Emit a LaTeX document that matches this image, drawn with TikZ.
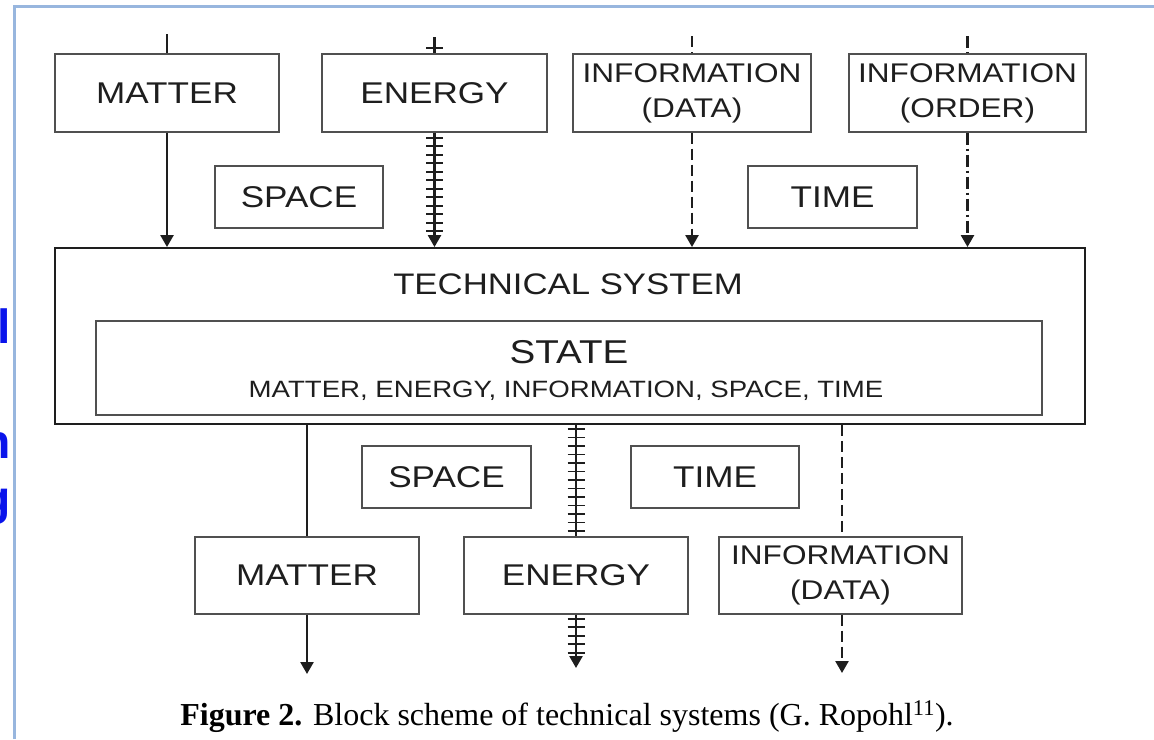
\documentclass[tikz,border=0pt]{standalone}
\usepackage{fontspec}
\usetikzlibrary{arrows.meta,decorations.markings}
\newfontfamily\boxfont[FakeStretch=1.17]{Liberation Sans}
\newfontfamily\slidefont{Liberation Sans}
\newfontfamily\captfont{Liberation Serif}
\definecolor{frameblue}{RGB}{152,182,222}
\definecolor{slideblue}{RGB}{10,20,235}
\definecolor{boxgray}{RGB}{80,80,80}
\definecolor{ink}{RGB}{30,30,30}

\tikzset{
  block/.style={draw=boxgray, line width=1.3pt, minimum height=78pt, inner sep=0pt,
    text=ink, font=\boxfont\fontsize{30}{36}\selectfont},
  twoline/.style={block, align=center, font=\boxfont\fontsize{27}{35}\selectfont},
  small/.style={block, minimum height=62pt},
  flow/.style={line width=2.5pt, draw=ink, -{Triangle[width=13pt,length=12pt]}},
  plainline/.style={line width=2.5pt, draw=ink},
  dataline/.style={dash pattern=on 11pt off 5pt},
  orderline/.style={dash pattern=on 12pt off 4pt on 2pt off 4pt},
  ticks/.style 2 args={postaction={decorate, decoration={markings,
    mark=between positions #1 and #2 step 8.5pt with {\draw[-, line width=1.7pt, ink, solid] (0,-8.5pt) -- (0,8.5pt);}}}}
}

\begin{document}
\begin{tikzpicture}[x=1pt, y=-1pt]
  \useasboundingbox (0,0) rectangle (1154,739);

  \begin{scope}
    \clip (0,0) rectangle (12.5,739);
    \node[anchor=base east, inner sep=0pt, text=slideblue, font=\slidefont\bfseries\fontsize{48}{48}\selectfont] (frag1) at (11,343) {l};
    \node[anchor=base east, inner sep=0pt, text=slideblue, font=\slidefont\bfseries\fontsize{48}{48}\selectfont] (frag2) at (11,458) {n};
    \node[anchor=base east, inner sep=0pt, text=slideblue, font=\slidefont\bfseries\fontsize{48}{48}\selectfont] (frag3) at (11,514) {g};
  \end{scope}
  \draw[frameblue, line width=3pt] (14.5,739) -- (14.5,6) -- (1154,6);

  \node[block, minimum width=224pt] (matterIn) at (167,93) {MATTER};
  \node[block, minimum width=225pt] (energyIn) at (434.5,93) {ENERGY};
  \node[twoline, minimum width=238pt] (dataIn) at (692,93) {INFORMATION\\(DATA)};
  \node[twoline, minimum width=237pt] (orderIn) at (967.5,93) {INFORMATION\\(ORDER)};
  \node[small, minimum width=168pt] (spaceIn) at (299,197) {SPACE};
  \node[small, minimum width=169pt] (timeIn) at (832.5,197) {TIME};

  \node[draw=ink, line width=1.9pt, minimum width=1030pt, minimum height=176pt, inner sep=0pt] (tech) at (570,336) {};
  \node[anchor=base, text=ink, font=\boxfont\fontsize{29.7}{36}\selectfont] (techLabel) at (568,294) {TECHNICAL SYSTEM};
  \node[draw=boxgray, line width=1.6pt, minimum width=946pt, minimum height=94pt, inner sep=0pt] (state) at (569,368) {};
  \node[anchor=base, text=ink, font=\boxfont\fontsize{33}{36}\selectfont] (stateLabel) at (569,363) {STATE};
  \node[anchor=base, text=ink, font=\boxfont\fontsize{23.6}{28}\selectfont] (stateList) at (566,397) {MATTER, ENERGY, INFORMATION, SPACE, TIME};

  \node[small, minimum width=169pt] (spaceOut) at (446.5,477) {SPACE};
  \node[small, minimum width=168pt] (timeOut) at (715,477) {TIME};
  \node[block, minimum width=224pt, minimum height=77pt] (matterOut) at (307,575.5) {MATTER};
  \node[block, minimum width=224pt, minimum height=77pt] (energyOut) at (576,575.5) {ENERGY};
  \node[twoline, minimum width=243pt, minimum height=77pt] (dataOut) at (840.5,575.5) {INFORMATION\\(DATA)};

  \coordinate (matterSrc) at (167,34);
  \coordinate (energySrc) at (434.5,37);
  \coordinate (dataSrc) at (692,36);
  \coordinate (orderSrc) at (967.5,36);
  \coordinate (matterEnd) at (307,674);
  \coordinate (energyEnd) at (576,668);
  \coordinate (dataEnd) at (842,673);

  \draw[plainline] (matterSrc) -- (matterIn);
  \draw[plainline, ticks={11pt}{11.5pt}] (energySrc) -- (energyIn);
  \draw[plainline, dataline] (dataSrc) -- (dataIn);
  \draw[plainline, orderline] (orderSrc) -- (orderIn);

  \draw[flow] (matterIn) -- (matterIn |- tech.north);
  \draw[flow, ticks={5pt}{-15pt}] (energyIn) -- (energyIn |- tech.north);
  \draw[flow, dataline] (dataIn) -- (dataIn |- tech.north);
  \draw[flow, orderline] (orderIn) -- (orderIn |- tech.north);

  \draw[plainline] (matterOut |- tech.south) -- (matterOut);
  \draw[plainline, ticks={4pt}{-4pt}] (energyOut |- tech.south) -- (energyOut);
  \draw[plainline, dataline] (dataEnd |- tech.south) -- (dataEnd |- dataOut.north);

  \draw[flow] (matterOut) -- (matterEnd);
  \draw[flow, ticks={4pt}{-14pt}] (energyOut) -- (energyEnd);
  \draw[flow, dataline] (dataEnd |- dataOut.south) -- (dataEnd);

  \node[anchor=base, text=black, font=\captfont\fontsize{32}{36}\selectfont] (caption) at (567,725)
    {\textbf{Figure 2.} Block scheme of technical systems (G. Ropohl\textsuperscript{11}).};
\end{tikzpicture}
\end{document}
